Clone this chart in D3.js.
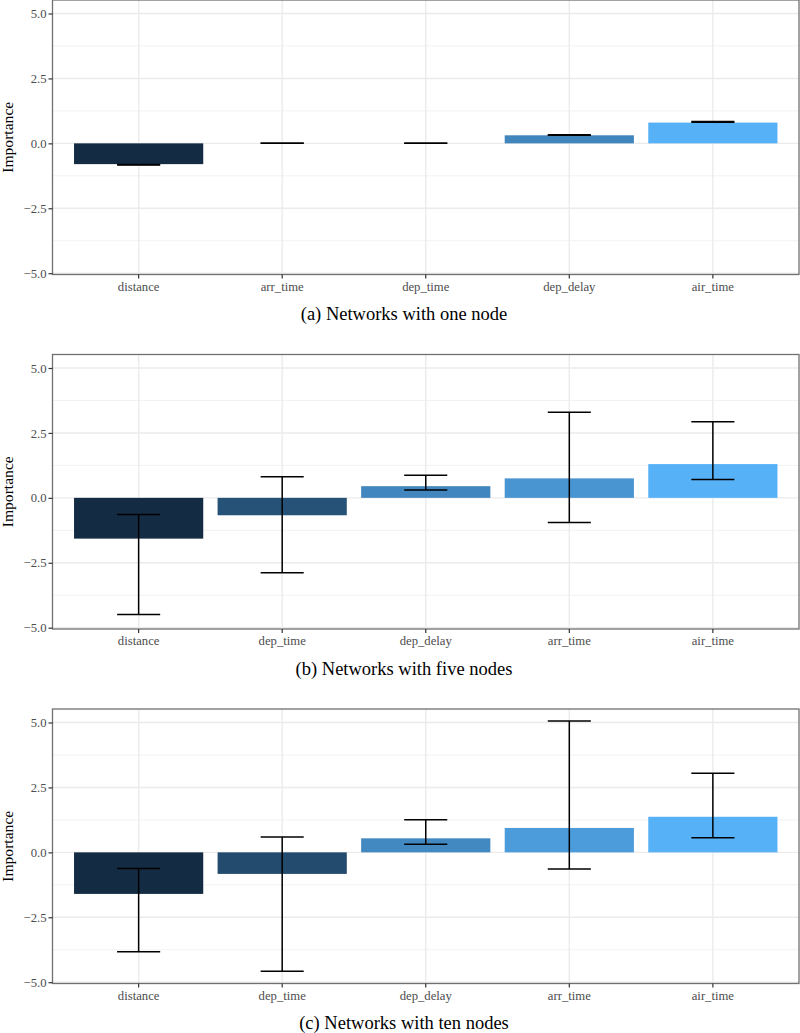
<!DOCTYPE html>
<html>
<head>
<meta charset="utf-8">
<script src="https://cdn.jsdelivr.net/npm/d3@7"></script>
<style>
  body { margin: 0; background: #fff; }
  svg { display: block; }
  text { font-family: "Liberation Serif", "Times New Roman", "DejaVu Serif", serif; }
</style>
</head>
<body>
<div id="chart"></div>
<script>
// Variable importance, three network sizes

const captions = [
  '(a) Networks with one node',
  '(b) Networks with five nodes',
  '(c) Networks with ten nodes'
];

const oneNodeCats = ['distance', 'arr_time', 'dep_time', 'dep_delay', 'air_time'];
const oneNodeValues = [-0.80, 0.00, 0.00, 0.31, 0.80];
const oneNodeLow = [-0.83, 0.00, 0.00, 0.31, 0.81];
const oneNodeHigh = [-0.81, 0.00, 0.00, 0.33, 0.84];

const fiveNodeCats = ['distance', 'dep_time', 'dep_delay', 'arr_time', 'air_time'];
const fiveNodeValues = [-1.57, -0.67, 0.45, 0.75, 1.30];
const fiveNodeLow = [-4.49, -2.88, 0.30, -0.95, 0.71];
const fiveNodeHigh = [-0.64, 0.81, 0.87, 3.30, 2.93];

const tenNodeCats = ['distance', 'dep_time', 'dep_delay', 'arr_time', 'air_time'];
const tenNodeValues = [-1.60, -0.83, 0.54, 0.94, 1.37];
const tenNodeLow = [-3.83, -4.58, 0.31, -0.64, 0.56];
const tenNodeHigh = [-0.62, 0.59, 1.26, 5.06, 3.05];

const majorTicks = [-5, -2.5, 0, 2.5, 5];
const minorTicks = [-3.75, -1.25, 1.25, 3.75];

const width = 800;
const height = 1033;
const left = 52.5;
const right = 799;
const panelHeight = 274.5;
const panelTops = [0, 354.5, 709];
const serif = '"Liberation Serif", "Times New Roman", "DejaVu Serif", serif';

const svg = d3.select('#chart')
  .append('svg')
  .attr('width', width)
  .attr('height', height);

function drawPanel(top, cats, values, lows, highs, caption) {
  const g = svg.append('g');

  const x = d3.scaleBand()
    .domain(cats)
    .range([left, right])
    .paddingInner(0.1)
    .paddingOuter(0.15);

  const y = d3.scaleLinear()
    .domain([-5.05, 5.52])
    .range([top + panelHeight, top]);

  const fill = d3.scaleLinear()
    .domain(d3.extent(values))
    .range(['#132B43', '#56B1F7'])
    .interpolate(d3.interpolateLab);

  const rows = cats.map((c, i) => ({ cat: c, value: values[i], lo: lows[i], hi: highs[i] }));

  // grid
  g.selectAll('.minor')
    .data(minorTicks)
    .join('line')
    .attr('x1', left).attr('x2', right)
    .attr('y1', d => y(d)).attr('y2', d => y(d))
    .attr('stroke', '#f2f2f2')
    .attr('stroke-width', 1);

  g.selectAll('.major')
    .data(majorTicks)
    .join('line')
    .attr('x1', left).attr('x2', right)
    .attr('y1', d => y(d)).attr('y2', d => y(d))
    .attr('stroke', '#ebebeb')
    .attr('stroke-width', 1.4);

  g.selectAll('.vgrid')
    .data(cats)
    .join('line')
    .attr('x1', d => x(d) + x.bandwidth() / 2)
    .attr('x2', d => x(d) + x.bandwidth() / 2)
    .attr('y1', top).attr('y2', top + panelHeight)
    .attr('stroke', '#ebebeb')
    .attr('stroke-width', 1.4);

  // bars
  g.selectAll('.bar')
    .data(rows)
    .join('rect')
    .attr('x', d => x(d.cat))
    .attr('width', x.bandwidth())
    .attr('y', d => y(Math.max(0, d.value)))
    .attr('height', d => Math.abs(y(d.value) - y(0)))
    .attr('fill', d => fill(d.value));

  // error bars
  const eb = g.selectAll('.err')
    .data(rows)
    .join('g')
    .attr('transform', d => `translate(${x(d.cat) + x.bandwidth() / 2},0)`);
  const capW = x.step() * 0.3 / 2;

  eb.append('line')
    .attr('y1', d => y(d.lo)).attr('y2', d => y(d.hi))
    .attr('stroke', '#000').attr('stroke-width', 1.5);
  eb.append('line')
    .attr('x1', -capW).attr('x2', capW)
    .attr('y1', d => y(d.lo)).attr('y2', d => y(d.lo))
    .attr('stroke', '#000').attr('stroke-width', 1.5);
  eb.append('line')
    .attr('x1', -capW).attr('x2', capW)
    .attr('y1', d => y(d.hi)).attr('y2', d => y(d.hi))
    .attr('stroke', '#000').attr('stroke-width', 1.5);

  // border
  g.append('rect')
    .attr('x', left).attr('y', top)
    .attr('width', right - left).attr('height', panelHeight)
    .attr('fill', 'none')
    .attr('stroke', '#707070')
    .attr('stroke-width', 1.3);

  // axes
  const yAxis = g.append('g')
    .attr('transform', `translate(${left},0)`)
    .call(d3.axisLeft(y).tickValues(majorTicks).tickSize(4).tickPadding(2));
  const xAxis = g.append('g')
    .attr('transform', `translate(0,${top + panelHeight})`)
    .call(d3.axisBottom(x).tickSize(4).tickPadding(3));

  [yAxis, xAxis].forEach(a => {
    a.attr('font-family', serif);
    a.select('.domain').remove();
    a.selectAll('.tick line').attr('stroke', '#333').attr('stroke-width', 1.2);
    a.selectAll('.tick text')
      .attr('fill', '#4d4d4d')
      .style('font-size', '12.7px');
  });
  yAxis.selectAll('.tick text').text(d => d < 0 ? '\u2212' + d3.format('.1f')(-d) : d3.format('.1f')(d));

  // y title
  g.append('text')
    .attr('transform', `translate(13,${top + panelHeight / 2}) rotate(-90)`)
    .attr('text-anchor', 'middle')
    .style('font-size', '15.6px')
    .text('Importance');

  // caption
  g.append('text')
    .attr('x', 404)
    .attr('y', top + 320)
    .attr('text-anchor', 'middle')
    .style('font-size', '18.5px')
    .text(caption);
}

drawPanel(panelTops[0], oneNodeCats, oneNodeValues, oneNodeLow, oneNodeHigh, captions[0]);
drawPanel(panelTops[1], fiveNodeCats, fiveNodeValues, fiveNodeLow, fiveNodeHigh, captions[1]);
drawPanel(panelTops[2], tenNodeCats, tenNodeValues, tenNodeLow, tenNodeHigh, captions[2]);
</script>
</body>
</html>
